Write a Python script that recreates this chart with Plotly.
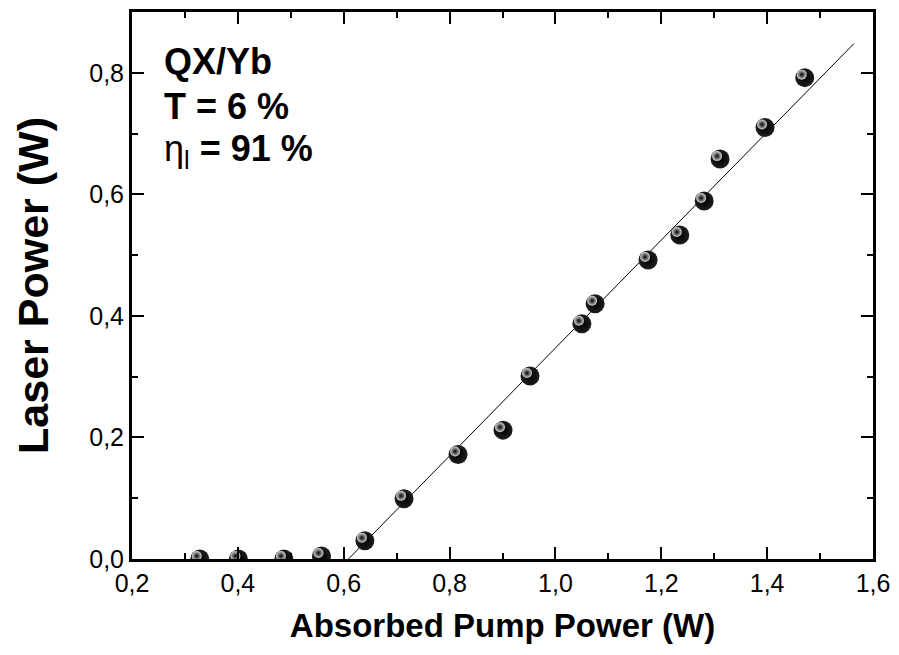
import plotly.graph_objects as go

# Data
pump_power = [0.328, 0.401, 0.487, 0.558, 0.640, 0.714, 0.816, 0.901, 0.952,
              1.050, 1.075, 1.175, 1.235, 1.281, 1.311, 1.396, 1.471]
laser_power = [0.0, 0.0, 0.0, 0.005, 0.030, 0.099, 0.172, 0.212, 0.301,
               0.387, 0.420, 0.492, 0.533, 0.589, 0.658, 0.710, 0.792]

# Linear fit line endpoints
fit_x = [0.609, 1.564]
fit_y = [0.0, 0.848]

x_ticks = [0.2, 0.4, 0.6, 0.8, 1.0, 1.2, 1.4, 1.6]
y_ticks = [0.0, 0.2, 0.4, 0.6, 0.8]

X_RANGE = [0.2, 1.6]
Y_RANGE = [0.0, 0.9]

FONT = "Liberation Sans, Arial, sans-serif"
TICK_FONT = dict(family=FONT, size=25, color="black")

W, H = 899, 655
M = dict(l=132, r=26, t=9, b=96)

fig = go.Figure()

fig.add_trace(go.Scatter(
    x=fit_x, y=fit_y, mode="lines", xaxis="x", yaxis="y",
    line=dict(color="black", width=1), showlegend=False, hoverinfo="skip"))

# sphere body
fig.add_trace(go.Scatter(
    x=pump_power, y=laser_power, mode="markers", xaxis="x", yaxis="y",
    marker=dict(size=19, color="#1e1e1e",
                gradient=dict(type="radial", color="black"),
                line=dict(width=0)),
    showlegend=False))
# sphere highlight, drawn on overlay axes shifted a few pixels up-left
fig.add_trace(go.Scatter(
    x=pump_power, y=laser_power, mode="markers", xaxis="x2", yaxis="y2",
    marker=dict(size=10, color="#d4d4d4",
                gradient=dict(type="radial", color="black"),
                line=dict(width=0)),
    showlegend=False, hoverinfo="skip"))

# pixel offset of the highlight (about 3 px up and 3 px left)
px_w = W - M["l"] - M["r"]
px_h = H - M["t"] - M["b"]
dx = 3 * (X_RANGE[1] - X_RANGE[0]) / px_w
dy = 3 * (Y_RANGE[1] - Y_RANGE[0]) / px_h

xaxis = dict(
    range=X_RANGE, tickvals=x_ticks, tickformat=".1f",
    showline=True, linecolor="black", linewidth=3, mirror="allticks",
    ticks="inside", ticklen=12, tickwidth=2, tickcolor="black",
    showgrid=False, zeroline=False, tickfont=TICK_FONT,
    minor=dict(ticks="inside", ticklen=6, tickwidth=2, dtick=0.1, tick0=0.2, tickcolor="black"),
    title=dict(text="<b>Absorbed Pump Power (W)</b>",
               font=dict(family=FONT, size=33, color="black"), standoff=18),
)
yaxis = dict(
    range=Y_RANGE, tickvals=y_ticks, tickformat=".1f",
    showline=True, linecolor="black", linewidth=3, mirror="allticks",
    ticks="inside", ticklen=12, tickwidth=2, tickcolor="black",
    showgrid=False, zeroline=False, tickfont=TICK_FONT,
    minor=dict(ticks="inside", ticklen=6, tickwidth=2, dtick=0.1, tick0=0.0, tickcolor="black"),
    title=dict(text="<b>Laser Power (W)</b>",
               font=dict(family=FONT, size=43, color="black"), standoff=28),
)

fig.update_layout(
    width=W, height=H,
    margin=M,
    paper_bgcolor="white", plot_bgcolor="white",
    separators=",.",
    font=dict(family=FONT, color="black"),
    showlegend=False,
    xaxis=xaxis,
    yaxis=yaxis,
    xaxis2=dict(overlaying="x", anchor="y", range=[X_RANGE[0] + dx, X_RANGE[1] + dx],
                visible=False, showgrid=False, zeroline=False),
    yaxis2=dict(overlaying="y", anchor="x", range=[Y_RANGE[0] - dy, Y_RANGE[1] - dy],
                visible=False, showgrid=False, zeroline=False),
)

ann_font = dict(family=FONT, size=36, color="black")
fig.add_annotation(x=0.04, y=0.91, xref="paper", yref="paper", xanchor="left",
                   yanchor="middle", showarrow=False, text="<b>QX/Yb</b>", font=ann_font)
fig.add_annotation(x=0.04, y=0.827, xref="paper", yref="paper", xanchor="left",
                   yanchor="middle", showarrow=False, text="<b>T = 6 %</b>", font=ann_font)
fig.add_annotation(x=0.04, y=0.745, xref="paper", yref="paper", xanchor="left",
                   yanchor="middle", showarrow=False,
                   text="η<sub>l</sub> <b>= 91 %</b>", font=ann_font)

fig.write_html("out.html")
